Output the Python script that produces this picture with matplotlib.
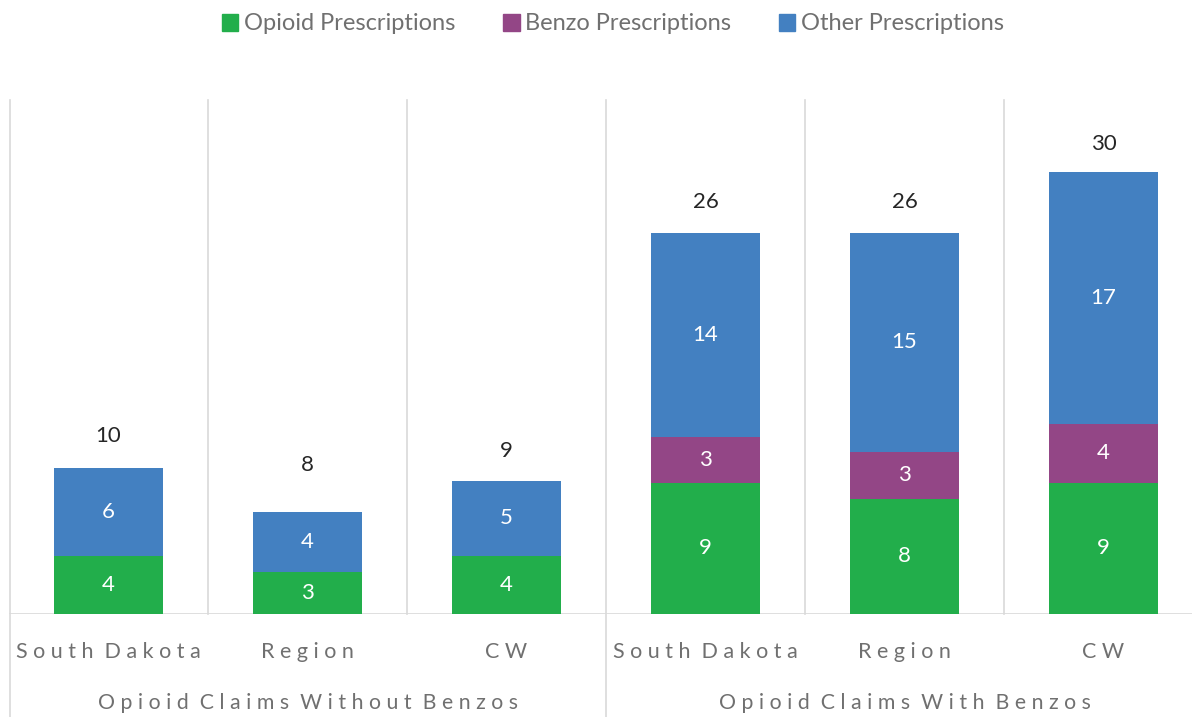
import matplotlib
matplotlib.use("Agg")
import matplotlib.pyplot as plt
from matplotlib.patches import Patch
import matplotlib.transforms as mtransforms

plt.rcParams['font.family'] = ['Lato', 'DejaVu Sans']

categories = ["South Dakota", "Region", "CW", "South Dakota", "Region", "CW"]
groups = ["Opioid Claims Without Benzos", "Opioid Claims With Benzos"]
opioid = [4.0, 2.9, 4.0, 9.0, 7.9, 9.0]
benzo = [0.0, 0.0, 0.0, 3.1, 3.2, 4.0]
other = [6.0, 4.1, 5.1, 14.0, 15.0, 17.3]
opioid_labels = ["4", "3", "4", "9", "8", "9"]
benzo_labels = ["", "", "", "3", "3", "4"]
other_labels = ["6", "4", "5", "14", "15", "17"]
totals = [10, 8, 9, 26, 26, 30]

c_op = '#22AE4B'
c_bz = '#934686'
c_ot = '#4380C1'
grid_c = '#D9D9D9'
txt_c = '#707070'

W, H = 1192, 717
fig = plt.figure(figsize=(W / 100, H / 100), dpi=100)
left_px, right_px, base_px, top_px = 9, 1203, 614, 103
ax = fig.add_axes([left_px / W, (H - base_px) / H, (right_px - left_px) / W, (base_px - top_px) / H])
ax.set_xlim(-0.5, 5.5)
ax.set_ylim(0, 35)
for s in ax.spines.values():
    s.set_visible(False)
ax.set_yticks([])
ax.set_xticks([])

x = list(range(len(categories)))
bw = 0.55
ax.bar(x, opioid, bw, color=c_op, zorder=3)
b2 = [o for o in opioid]
ax.bar(x, benzo, bw, bottom=b2, color=c_bz, zorder=3)
b3 = [o + b for o, b in zip(opioid, benzo)]
ax.bar(x, other, bw, bottom=b3, color=c_ot, zorder=3)

fs_data = 16
for i in x:
    ax.text(i, opioid[i] / 2, opioid_labels[i], ha='center', va='center', color='white', fontsize=fs_data, zorder=4)
    if benzo_labels[i]:
        ax.text(i, opioid[i] + benzo[i] / 2, benzo_labels[i], ha='center', va='center', color='white', fontsize=fs_data, zorder=4)
    ax.text(i, b3[i] + other[i] / 2, other_labels[i], ha='center', va='center', color='white', fontsize=fs_data, zorder=4)
    ax.annotate(str(totals[i]), (i, totals[i]), xytext=(0, 23), textcoords='offset points',
                ha='center', va='center', color='#262626', fontsize=fs_data, zorder=4)

# baseline
ax.axhline(0, color=grid_c, lw=1.2, zorder=2)
# separators
axh = base_px - top_px
for xs in [0.5, 1.5, 3.5, 4.5]:
    ax.axvline(xs, ymin=0, ymax=(base_px - 100) / axh, color=grid_c, lw=1.2, zorder=1, clip_on=False)
for xs in [-0.5, 2.5]:
    ax.axvline(xs + (0.004 if xs < 0 else 0), ymin=-(H - base_px) / axh, ymax=(base_px - 100) / axh,
               color=grid_c, lw=1.2, zorder=1, clip_on=False)

def spaced(s):
    return "  ".join(" ".join(w) for w in s.split(" "))

trans = mtransforms.blended_transform_factory(ax.transData, fig.transFigure)
for i, c in enumerate(categories):
    ax.text(i, (H - 652) / H, spaced(c), transform=trans, ha='center', va='center',
            color=txt_c, fontsize=15.5)
for g, gi in enumerate(groups):
    ax.text(1 + 3 * g, (H - 703) / H, spaced(gi), transform=trans, ha='center', va='center',
            color=txt_c, fontsize=15.3)

handles = [Patch(color=c_op, label='Opioid Prescriptions'),
           Patch(color=c_bz, label='Benzo Prescriptions'),
           Patch(color=c_ot, label='Other Prescriptions')]
fig.legend(handles=handles, loc='center', bbox_to_anchor=(613 / W, (H - 24) / H), ncol=3,
           frameon=False, fontsize=17, labelcolor=txt_c, handlelength=0.7, handleheight=0.7,
           handletextpad=0.25, columnspacing=2.0)

fig.savefig('out.png', dpi=100)
